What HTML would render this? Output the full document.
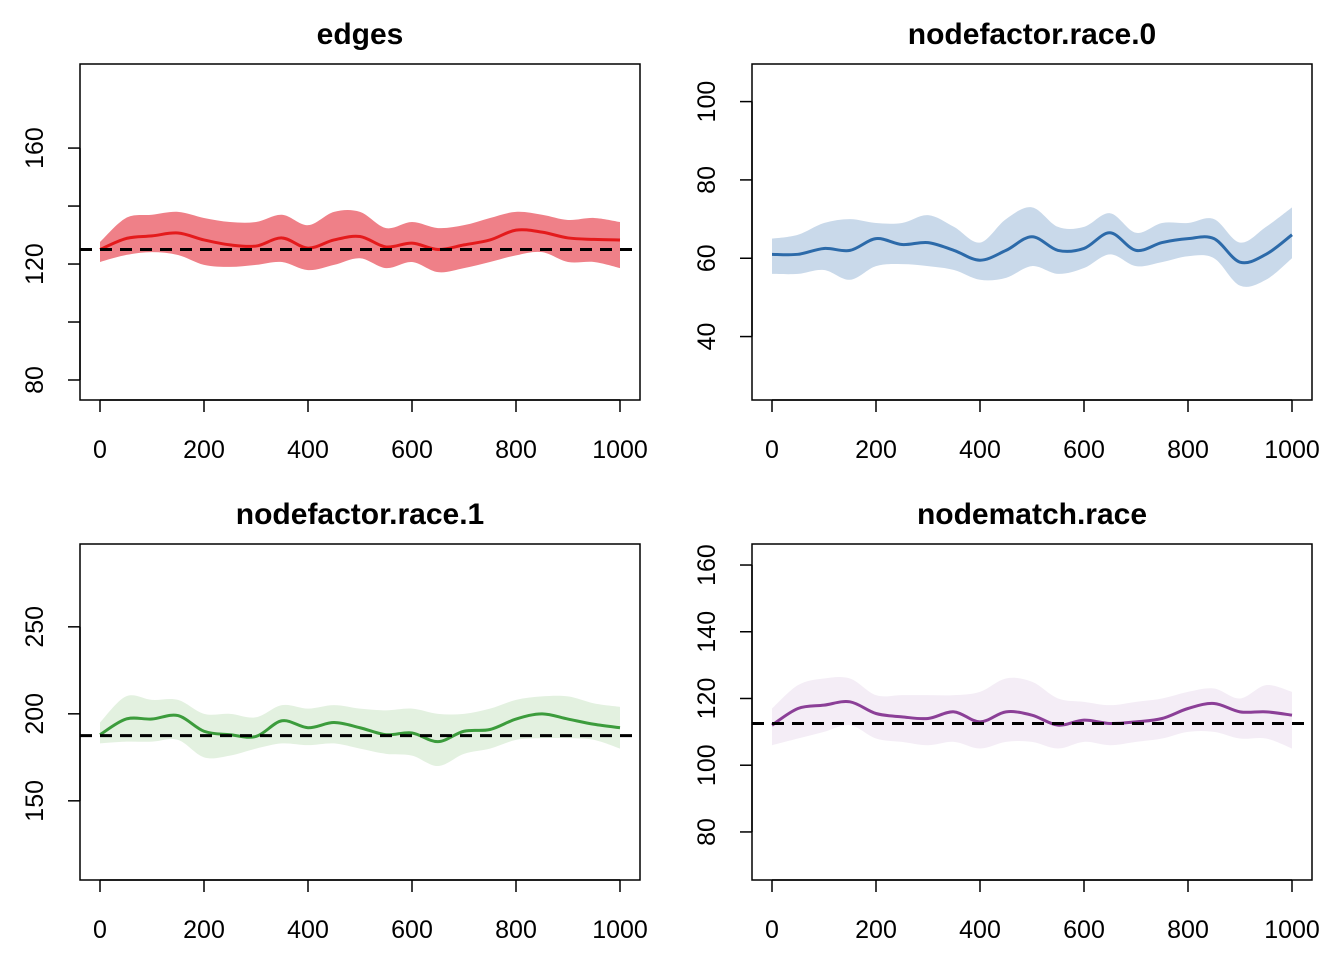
<!DOCTYPE html>
<html><head><meta charset="utf-8"><style>
html,body{margin:0;padding:0;background:#fff;}
svg{display:block;font-family:"Liberation Sans",Arial,sans-serif;}
</style></head><body>
<svg id="chart" width="1344" height="960"></svg>
<script>
const steps = [0,50,100,150,200,250,300,350,400,450,500,550,600,650,700,750,800,850,900,950,1000];
const xTicks = [0,200,400,600,800,1000];
const titles = ["edges","nodefactor.race.0","nodefactor.race.1","nodematch.race"];
const yTicks1 = [80,120,160];
const yTicks1b = [80,100,120,140,160];
const yTicks2 = [40,60,80,100];
const yTicks3 = [150,200,250];
const yTicks4 = [80,100,120,140,160];
const targets = [125,null,187.5,112.5];
const mean1 = [125,128.8,129.7,130.7,128.3,126.6,126.2,129,125.5,128.3,129.5,125.9,127.2,125,126.6,128.3,131.7,131,129,128.5,128.3];
const hi1 = [127.6,135.9,137,138,135.9,134.5,134.5,137,133.4,138,138,132.4,134.5,132.4,133.4,135.9,138,137,135.2,135.9,134.5];
const lo1 = [120.7,123.1,124.1,123.1,119.7,119,119.7,120.7,117.9,119.7,122,118.6,120.7,117.2,118.6,120.7,123,124.1,120.7,120.7,118.6];
const mean2 = [61,61,62.5,62,65,63.5,64,62,59.5,62,65.5,62,62.5,66.5,62,64,65,65,59,61,66];
const hi2 = [65,66,69,70,69,69,71,68,64,70,73,68,68,71.5,66.5,69,69,70,64,68,73];
const lo2 = [56,56,57,54.5,58,58.5,58,57,54.5,55,58,56,57.5,61,58,59,60.5,60,53,54.5,60];
const mean3 = [188,197,197,199,190,188,187,196,192,195,192,188,189,184,190,191,197,200,197,194,192];
const hi3 = [195,210,208,208,200,200,198,205,203,205,203,202,203,200,200,203,208,210,210,206,204];
const lo3 = [183,184,184,185,175,176,180,183,182,183,180,177,176,170,177,180,185,186,186,185,180];
const mean4 = [112,117,118,119,115.5,114.5,114,116,113,116,115,112,113.5,112.5,113,114,117,118.5,116,116,115];
const hi4 = [117,124,126,126,121,121,121,121,122,126,125,120,119,118,119,120,122,123,120,124,122];
const lo4 = [106,108,110,112,108,107,106,107,105,107,107,105,107,106,107,108,110,110,108,108,105];

const svg = document.getElementById('chart');
const NS = "http://www.w3.org/2000/svg";
function mk(tag, attrs, parent){ const e=document.createElementNS(NS,tag); for(const k in attrs) e.setAttribute(k,attrs[k]); (parent||svg).appendChild(e); return e; }
function smooth(pts){
  let d = "M"+pts[0][0]+","+pts[0][1];
  for(let i=0;i<pts.length-1;i++){
    const p0=pts[i-1]||pts[i], p1=pts[i], p2=pts[i+1], p3=pts[i+2]||p2;
    const c1=[p1[0]+(p2[0]-p0[0])/6, p1[1]+(p2[1]-p0[1])/6];
    const c2=[p2[0]-(p3[0]-p1[0])/6, p2[1]-(p3[1]-p1[1])/6];
    d+=" C"+c1[0]+","+c1[1]+" "+c2[0]+","+c2[1]+" "+p2[0]+","+p2[1];
  }
  return d;
}
const panels = [
  {bx:80,by:64,ymin:73.1,ymax:189,ticks:yTicks1b,labels:yTicks1,mean:mean1,hi:hi1,lo:lo1,line:"#e41a1c",fill:"#ef8088",name:"edges"},
  {bx:752,by:64,ymin:23.8,ymax:109.6,ticks:yTicks2,labels:yTicks2,mean:mean2,hi:hi2,lo:lo2,line:"#2c6aa9",fill:"#c9d9ea",name:"race0"},
  {bx:80,by:544,ymin:104.5,ymax:297.6,ticks:yTicks3,labels:yTicks3,mean:mean3,hi:hi3,lo:lo3,line:"#3c9c3c",fill:"#e3f1e0",name:"race1"},
  {bx:752,by:544,ymin:65.6,ymax:166.3,ticks:yTicks4,labels:yTicks4,mean:mean4,hi:hi4,lo:lo4,line:"#8b3f97",fill:"#f4edf6",name:"nodematch"}
];
panels.forEach((p,i)=>{
  const W=560,H=336;
  const g = mk('g',{});
  
  
  const xs = v => p.bx+20+v*0.52;
  const ys = v => p.by+H-(v-p.ymin)/(p.ymax-p.ymin)*H;
  const up = steps.map((s,j)=>[xs(s),ys(p.hi[j])]);
  const dn = steps.map((s,j)=>[xs(s),ys(p.lo[j])]).reverse();
  const band = mk('path',{d:smooth(up)+" L"+dn[0][0]+","+dn[0][1]+smooth(dn).replace(/^M[^C]*/," ")+" Z",fill:p.fill,stroke:"none"},g);
  
  
  const ln = mk('path',{d:smooth(steps.map((s,j)=>[xs(s),ys(p.mean[j])])),fill:"none",stroke:p.line,"stroke-width":3},g);
  
  
  if(targets[i]!==null){
    const t = mk('line',{x1:p.bx,x2:p.bx+W,y1:ys(targets[i]),y2:ys(targets[i]),stroke:"#000","stroke-width":3,"stroke-dasharray":"12,8"},g);
    
    
  }
  const box = mk('rect',{x:p.bx,y:p.by,width:W,height:H,fill:"none",stroke:"#000","stroke-width":1.5},g);
  
  
  const tt = mk('text',{x:p.bx+W/2,y:p.by-20,"text-anchor":"middle","font-size":30,"font-weight":"bold"},g);
  tt.textContent = titles[i];
  
  
  mk('line',{x1:xs(0),x2:xs(1000),y1:p.by+H,y2:p.by+H,stroke:"#000","stroke-width":1.5},g);
  xTicks.forEach(v=>{
    mk('line',{x1:xs(v),x2:xs(v),y1:p.by+H,y2:p.by+H+12,stroke:"#000","stroke-width":1.5},g);
    const tx = mk('text',{x:xs(v),y:p.by+H+58,"text-anchor":"middle","font-size":25},g);
    tx.textContent = v;
    
    
  });
  const t0=p.ticks[0], t1=p.ticks[p.ticks.length-1];
  mk('line',{x1:p.bx,x2:p.bx,y1:ys(t0),y2:ys(t1),stroke:"#000","stroke-width":1.5},g);
  p.ticks.forEach(v=>{
    mk('line',{x1:p.bx-12,x2:p.bx,y1:ys(v),y2:ys(v),stroke:"#000","stroke-width":1.5},g);
    if(p.labels.indexOf(v)>=0){
      const ty = mk('text',{x:p.bx-37,y:ys(v),"text-anchor":"middle","font-size":25,transform:"rotate(-90 "+(p.bx-37)+" "+ys(v)+")"},g);
      ty.textContent = v;
      
      
    }
  });
});
</script>
</body></html>
